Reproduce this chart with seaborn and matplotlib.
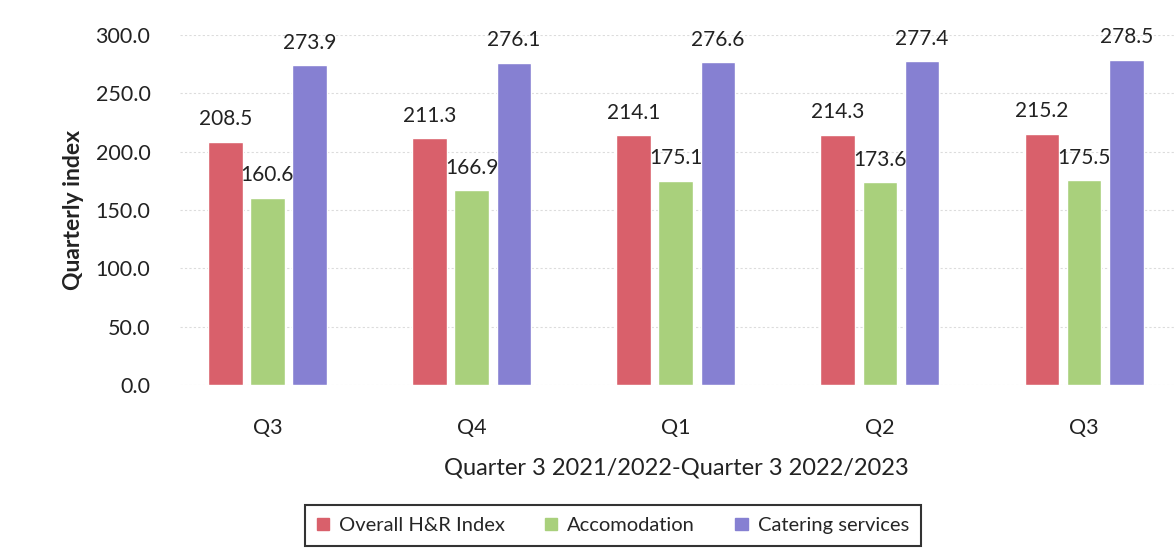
import pandas as pd
import matplotlib
matplotlib.use("Agg")
import matplotlib.pyplot as plt
import seaborn as sns

# Quarterly index values, Q3 2021/2022 - Q3 2022/2023
periods = ["2021/22 Q3", "2021/22 Q4", "2022/23 Q1", "2022/23 Q2", "2022/23 Q3"]
quarter_labels = ["Q3", "Q4", "Q1", "Q2", "Q3"]
series_names = ["Overall H&R Index", "Accomodation", "Catering services"]
overall = [208.5, 211.3, 214.1, 214.3, 215.2]
accomodation = [160.6, 166.9, 175.1, 173.6, 175.5]
catering = [273.9, 276.1, 276.6, 277.4, 278.5]
colors = ["#d9606b", "#a9d07c", "#8680d2"]

df = pd.DataFrame({
    "period": periods * 3,
    "series": [s for s in series_names for _ in periods],
    "value": overall + accomodation + catering,
})

sns.set_theme(style="white")
plt.rcParams["font.family"] = ["Lato", "DejaVu Sans"]

fig = plt.figure(figsize=(11.74, 5.51), dpi=100)
ax = fig.add_axes([0.153, 0.301, 0.847, 0.636])

sns.barplot(data=df, x="period", y="value", hue="series", order=periods,
            hue_order=series_names, palette=colors, width=0.62, gap=0.18,
            saturation=1, ax=ax)

for cont in ax.containers:
    ax.bar_label(cont, fmt="%.1f", padding=9, fontsize=15, color="#222222")

ax.set_ylim(0, 300)
ax.set_yticks(range(0, 301, 50))
ax.set_yticklabels([f"{v:.1f}" for v in range(0, 301, 50)], fontsize=15.5, color="#222222")
ax.set_xticks(range(len(periods)))
ax.set_xticklabels(quarter_labels, fontsize=15.5, color="#222222")
ax.tick_params(axis="x", pad=24, length=0)
ax.tick_params(axis="y", pad=21, length=0)
ax.set_xlim(-0.43, 4.44)

ax.yaxis.grid(True, color="#dcdcdc", linewidth=0.8, linestyle=(0, (2, 2)))
ax.set_axisbelow(True)
for sp in ax.spines.values():
    sp.set_visible(False)

ax.set_ylabel("Quarterly index", fontsize=16.5, fontweight="bold", color="#222222", labelpad=8)
ax.set_xlabel("Quarter 3 2021/2022-Quarter 3 2022/2023", fontsize=17, color="#222222", labelpad=14)

ax.get_legend().remove()
handles = [plt.Rectangle((0, 0), 1, 1, color=c) for c in colors]
leg = fig.legend(handles, series_names, loc="center", bbox_to_anchor=(0.522, 0.046),
                 ncol=3, fontsize=14.5, frameon=True, fancybox=False, edgecolor="black",
                 handlelength=0.6, handleheight=0.6, columnspacing=2.0, borderpad=0.6,
                 handletextpad=0.5)
leg.get_frame().set_linewidth(1.5)

fig.savefig("out.png", dpi=100)
